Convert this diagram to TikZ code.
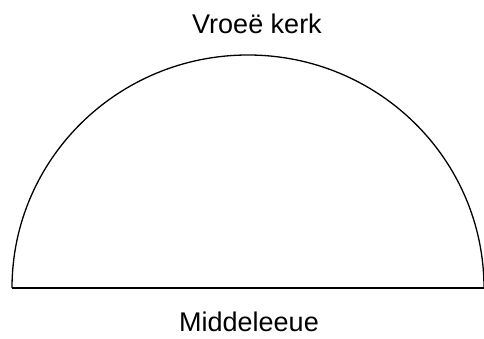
\documentclass[tikz,border=0pt]{standalone}
\usepackage{fontspec}
\setmainfont{Liberation Sans}
\usepackage{tikz}
\usetikzlibrary{positioning}

\begin{document}
\begin{tikzpicture}[
    x=1pt, y=1pt,
    outline/.style={draw=black, line width=1.3pt},
    era/.style={font=\fontsize{27}{32}\selectfont, anchor=base, inner sep=0pt},
]
    \useasboundingbox (0,0) rectangle (484,338);

    % Base of the dome
    \coordinate (west) at (12,50);
    \coordinate (east) at (484,50);

    % Dome
    \draw[outline] (west) arc[start angle=180, end angle=0, x radius=236, y radius=233];
    \draw[outline] (west) -- (east);

    % Labels
    \node[era] (early) at (257,304) {Vroeë kerk};
    \node[era] (middle) at (249,7) {Middeleeue};
\end{tikzpicture}
\end{document}
